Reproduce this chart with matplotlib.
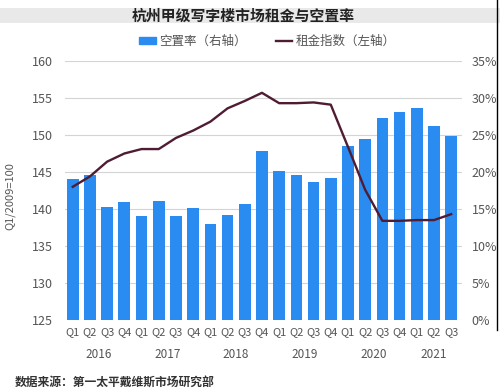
import matplotlib
matplotlib.use("Agg")
import matplotlib.pyplot as plt
import matplotlib.patches as mpatches
from matplotlib.lines import Line2D
from matplotlib.transforms import blended_transform_factory

plt.rcParams['font.family'] = ['Noto Sans CJK SC', 'DejaVu Sans']

# data
quarters = ['Q1', 'Q2', 'Q3', 'Q4'] * 5 + ['Q1', 'Q2', 'Q3']
years = ['2016', '2017', '2018', '2019', '2020', '2021']
year_centers = [1.5, 5.5, 9.5, 13.5, 17.5, 21]
vacancy = [19.0, 19.6, 15.3, 16.0, 14.1, 16.1, 14.0, 15.1, 13.0, 14.2, 15.7, 22.9,
           20.2, 19.6, 18.6, 19.2, 23.5, 24.5, 27.3, 28.1, 28.6, 26.2, 24.9]
rent_index = [143.0, 144.4, 146.4, 147.5, 148.1, 148.1, 149.6, 150.6, 151.8, 153.6, 154.6, 155.7,
              154.3, 154.3, 154.4, 154.1, 148.4, 142.6, 138.4, 138.4, 138.5, 138.5, 139.3]

bar_color = '#2a8cf0'
line_color = '#4f1c33'
text_color = '#555555'

fig = plt.figure(figsize=(5, 3.92), dpi=100)
fig.patch.set_facecolor('white')

# grey title band
fig.patches.append(mpatches.Rectangle((0, 1 - 23 / 392), 1, 15 / 392, transform=fig.transFigure,
                                      facecolor='#e9e9e9', edgecolor='none', zorder=0))
fig.text(0.486, 1 - 15.5 / 392, '杭州甲级写字楼市场租金与空置率', ha='center', va='center',
         fontsize=10.7, fontweight='bold', color='#222222')

ax = fig.add_axes([0.13, 0.1837, 0.794, 0.6607])
ax2 = ax.twinx()

x = list(range(len(vacancy)))
ax2.bar(x, [v / 100 for v in vacancy], width=0.68, color=bar_color, zorder=2)
ax.plot(x, rent_index, color=line_color, lw=1.7, zorder=3)

ax.set_zorder(ax2.get_zorder() + 1)
ax.patch.set_visible(False)

ax.set_ylim(125, 160)
ax.set_yticks(range(125, 161, 5))
ax2.set_ylim(0, 0.35)
ax2.set_yticks([i / 100 for i in range(0, 36, 5)])
ax2.set_yticklabels([f'{i}%' for i in range(0, 36, 5)])
ax.set_xlim(-0.45, 22.63)

ax2.yaxis.grid(True, color='#d4d4d4', lw=0.8, zorder=0)
ax2.set_axisbelow(True)

for a in (ax, ax2):
    for s in a.spines.values():
        s.set_visible(False)
    a.tick_params(length=0, colors=text_color, labelsize=9)

ax.tick_params(axis='y', pad=9)
ax2.tick_params(axis='y', pad=7)
ax.set_xticks(x)
ax.set_xticklabels(quarters, fontsize=8)
ax.tick_params(axis='x', pad=5)

trans = blended_transform_factory(ax.transData, ax.transAxes)
for yr, c in zip(years, year_centers):
    ax.text(c, -0.135, yr, transform=trans, ha='center', va='center', fontsize=8.5, color=text_color)

fig.text(0.02, 1 - 196 / 392, 'Q1/2009=100', rotation=90, ha='center', va='center',
         fontsize=8, color=text_color)

handles = [mpatches.Patch(color=bar_color), Line2D([0], [0], color=line_color, lw=1.7)]
fig.legend(handles, ['空置率（右轴）', '租金指数（左轴）'], loc='center', ncol=2,
           bbox_to_anchor=(0.535, 1 - 41 / 392), frameon=False, fontsize=9,
           handlelength=1.3, handleheight=0.5, columnspacing=2.3, handletextpad=0.3,
           labelcolor=text_color)

fig.text(0.03, 1 - 382 / 392, '数据来源：第一太平戴维斯市场研究部', ha='left', va='center',
         fontsize=8.5, fontweight='bold', color='#333333', style='italic')

# right edge frame line
fig.add_artist(Line2D([0.994, 0.994], [1 - 330 / 392, 1], transform=fig.transFigure,
                      color='black', lw=1))

fig.savefig('out.png', dpi=100)
